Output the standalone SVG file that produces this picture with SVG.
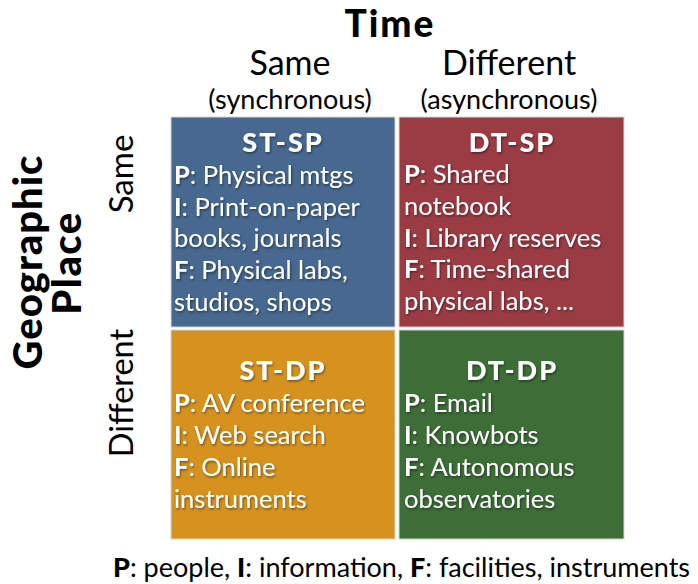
<svg xmlns="http://www.w3.org/2000/svg" width="698" height="584" viewBox="0 0 698 584">
<defs>
<filter id="sh" x="-10%" y="-10%" width="120%" height="130%">
<feDropShadow dx="1" dy="1.5" stdDeviation="1" flood-color="#000" flood-opacity="0.45"/>
</filter>
</defs>
<style>
text{font-family:Lato,"Open Sans","Liberation Sans",sans-serif;}
.hd{fill:#000;text-anchor:middle;}
.cell{stroke:#d6d6d6;stroke-width:1;}
.ct{fill:#fff;font-size:25.5px;filter:url(#sh);}
.tt{fill:#fff;font-size:27px;font-weight:900;text-anchor:middle;letter-spacing:2px;filter:url(#sh);}
.b{font-weight:bold;}
</style>
<rect width="698" height="584" fill="#fff"/>
<g id="headers">
<text class="hd" x="390" y="37" font-size="37" font-weight="900" letter-spacing="2">Time</text>
<text class="hd" x="290" y="75" font-size="34">Same</text>
<text class="hd" x="509" y="75" font-size="34">Different</text>
<text class="hd" x="290" y="109" font-size="27">(synchronous)</text>
<text class="hd" x="509" y="109" font-size="27">(asynchronous)</text>
<text class="hd" transform="translate(42,262) rotate(-90)" font-size="40" font-weight="900" letter-spacing="1">Geographic</text>
<text class="hd" transform="translate(81,263) rotate(-90)" font-size="40" font-weight="900" letter-spacing="1.5">Place</text>
<text class="hd" transform="translate(133,174) rotate(-90)" font-size="33">Same</text>
<text class="hd" transform="translate(133,393) rotate(-90)" font-size="32.5">Different</text>
</g>
<g id="st-sp">
<rect class="cell" x="171" y="117" width="224" height="210" fill="#47688f"/>
<text class="tt" x="283" y="152">ST-SP</text>
<text class="ct" x="174" y="184"><tspan class="b">P</tspan>: Physical mtgs</text>
<text class="ct" x="174" y="216"><tspan class="b">I</tspan>: Print-on-paper</text>
<text class="ct" x="174" y="247">books, journals</text>
<text class="ct" x="174" y="279"><tspan class="b">F</tspan>: Physical labs,</text>
<text class="ct" x="174" y="311">studios, shops</text>
</g>
<g id="dt-sp">
<rect class="cell" x="399" y="117" width="225" height="210" fill="#9b3c44"/>
<text class="tt" x="512" y="152">DT-SP</text>
<text class="ct" x="404" y="183"><tspan class="b">P</tspan>: Shared</text>
<text class="ct" x="404" y="215">notebook</text>
<text class="ct" x="404" y="247"><tspan class="b">I</tspan>: Library reserves</text>
<text class="ct" x="404" y="278"><tspan class="b">F</tspan>: Time-shared</text>
<text class="ct" x="404" y="310">physical labs, ...</text>
</g>
<g id="st-dp">
<rect class="cell" x="171" y="330" width="224" height="209" fill="#d5921f"/>
<text class="tt" x="283" y="380">ST-DP</text>
<text class="ct" x="174" y="412"><tspan class="b">P</tspan>: AV conference</text>
<text class="ct" x="174" y="444"><tspan class="b">I</tspan>: Web search</text>
<text class="ct" x="174" y="476"><tspan class="b">F</tspan>: Online</text>
<text class="ct" x="174" y="508">instruments</text>
</g>
<g id="dt-dp">
<rect class="cell" x="399" y="330" width="225" height="209" fill="#3d6e37"/>
<text class="tt" x="512" y="380">DT-DP</text>
<text class="ct" x="404" y="412"><tspan class="b">P</tspan>: Email</text>
<text class="ct" x="404" y="444"><tspan class="b">I</tspan>: Knowbots</text>
<text class="ct" x="404" y="476"><tspan class="b">F</tspan>: Autonomous</text>
<text class="ct" x="404" y="508">observatories</text>
</g>
<g id="connectors"></g>
<g id="legend">
<text x="113" y="577" font-size="27" fill="#000"><tspan font-weight="900">P</tspan>: people, <tspan font-weight="900">I</tspan>: information, <tspan font-weight="900">F</tspan>: facilities, instruments</text>
</g>
</svg>
